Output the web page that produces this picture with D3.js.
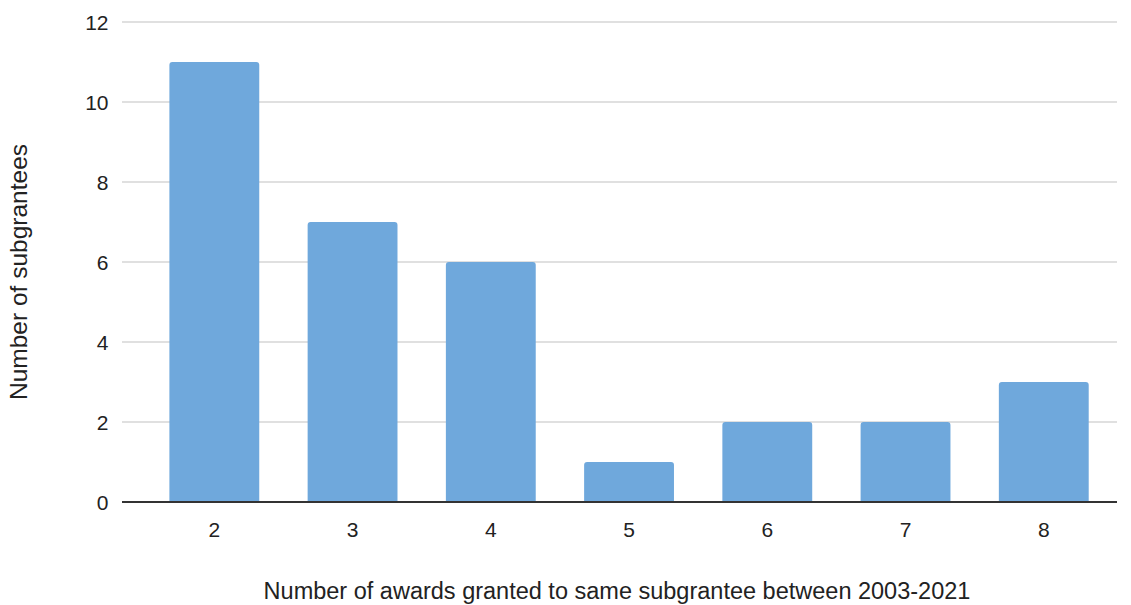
<!DOCTYPE html>
<html><head><meta charset="utf-8">
<script src="https://cdn.jsdelivr.net/npm/d3@7"></script>
<style>body{margin:0;background:#fff}svg{display:block}text{font-family:"Liberation Sans",Arial,sans-serif}</style>
</head><body>
<script>
const categories = ["2","3","4","5","6","7","8"];
const values = [11,7,6,1,2,2,3];
const yTicks = [0,2,4,6,8,10,12];
const xTitle = "Number of awards granted to same subgrantee between 2003-2021";
const yTitle = "Number of subgrantees";

const W = 1131, H = 605;
const svg = d3.select("body").append("svg").attr("width", W).attr("height", H);

const x = d3.scaleBand().domain(categories).range([145.2, 1112.9]).paddingInner(0.35).paddingOuter(0.175);
const y = d3.scaleLinear().domain([0,12]).range([502, 22]);
const gridX0 = 122, gridX1 = 1117;

svg.append("g").selectAll("line").data(yTicks.filter(d => d !== 0)).join("line")
  .attr("x1", gridX0).attr("x2", gridX1)
  .attr("y1", d => y(d)).attr("y2", d => y(d))
  .attr("stroke", "#d6d6d6").attr("stroke-width", 1.5);

svg.append("g").selectAll("text").data(yTicks).join("text")
  .attr("x", 108.5).attr("y", d => y(d)).attr("dy", "0.36em")
  .attr("text-anchor", "end").attr("font-size", 21).attr("fill", "#222")
  .text(d => d);

const r = 3;
svg.append("g").selectAll("path").data(values).join("path")
  .attr("fill", "#6fa8dc")
  .attr("d", (d, i) => {
    const x0 = x(categories[i]), w = x.bandwidth(), yt = y(d), yb = y(0);
    return `M${x0},${yb}V${yt + r}Q${x0},${yt} ${x0 + r},${yt}H${x0 + w - r}Q${x0 + w},${yt} ${x0 + w},${yt + r}V${yb}Z`;
  });

svg.append("line").attr("x1", gridX0).attr("x2", gridX1)
  .attr("y1", y(0)).attr("y2", y(0)).attr("stroke", "#333").attr("stroke-width", 2);

svg.append("g").selectAll("text").data(categories).join("text")
  .attr("x", d => x(d) + x.bandwidth() / 2).attr("y", 537)
  .attr("text-anchor", "middle").attr("font-size", 21).attr("fill", "#222")
  .text(d => d);

svg.append("text").attr("x", 617).attr("y", 599).attr("text-anchor", "middle")
  .attr("font-size", 23.5).attr("fill", "#222").text(xTitle);
svg.append("text").attr("transform", "translate(27,272) rotate(-90)").attr("text-anchor", "middle")
  .attr("font-size", 24.5).attr("fill", "#222").text(yTitle);
</script>
</body></html>
